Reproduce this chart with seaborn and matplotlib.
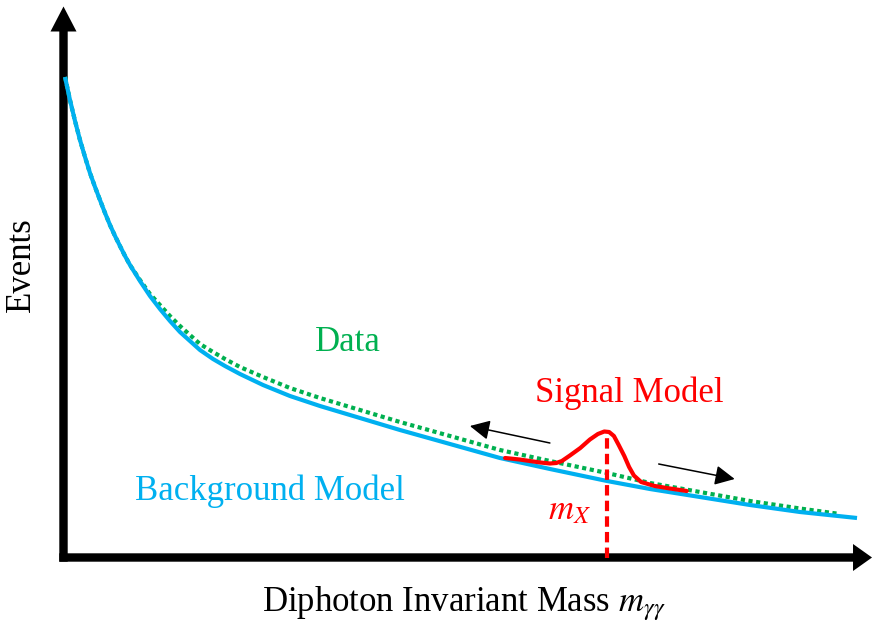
import matplotlib
matplotlib.use("Agg")
import matplotlib.pyplot as plt
import seaborn as sns

# Invariant mass grid (arbitrary units) and event yields for each curve
bkg_mass = [0.19, 0.81, 1.44, 2.06, 2.69, 3.31, 3.94, 4.56, 5.19, 5.81, 6.44, 7.06,
            7.69, 8.31, 9.56, 10.81, 12.06, 13.31, 14.56, 15.81, 17.06, 18.69, 20.19,
            22.06, 24.94, 28.31, 32.06, 35.81, 42.06, 48.31, 54.56, 60.81, 67.94,
            73.31, 79.56, 85.81, 92.06, 99.19]
bkg_events = [96.1, 91.5, 87.3, 83.5, 80.1, 76.9, 74.1, 71.5, 68.9, 66.5, 64.3, 62.3,
              60.3, 58.5, 55.3, 52.3, 49.7, 47.3, 45.1, 43.3, 41.5, 39.7, 38.3,
              36.7, 34.5, 32.3, 30.3, 28.5, 25.5, 22.7, 19.9, 17.7, 15.3,
              13.7, 12.1, 10.5, 9.1, 7.9]

data_mass = [0.19, 0.81, 1.44, 2.06, 2.69, 3.31, 3.94, 4.56, 5.19, 5.81, 6.44, 7.06,
             7.69, 8.31, 9.56, 10.81, 12.06, 13.31, 14.56, 15.81, 17.06, 18.69, 20.19,
             22.06, 24.94, 28.31, 32.06, 35.81, 42.06, 48.31, 54.56, 60.81, 67.94,
             73.31, 79.56, 85.81, 92.06, 97.06]
data_events = [96.1, 91.5, 87.3, 83.5, 80.1, 76.9, 74.1, 71.5, 68.9, 66.5, 64.3, 62.3,
               60.3, 58.5, 55.5, 52.7, 50.5, 48.3, 46.3, 44.5, 42.7, 41.1, 39.7,
               38.1, 36.1, 33.9, 31.9, 30.1, 27.1, 24.3, 21.5, 19.3, 16.9,
               14.9, 13.1, 11.3, 9.8, 8.7]

sig_mass = [55.2, 57.0, 58.3, 59.6, 60.8, 61.6, 62.3, 63.3, 64.6, 65.8, 66.8, 67.6,
            68.2, 68.8, 69.4, 70.1, 70.7, 71.3, 72.2, 73.9, 75.8, 77.9]
sig_events = [19.9, 19.6, 19.3, 19.0, 18.8, 18.9, 19.3, 20.4, 21.9, 23.6, 24.7, 25.2,
              25.1, 24.3, 22.5, 20.3, 18.1, 16.4, 15.1, 14.3, 13.8, 13.3]

# Signal peak position m_X and the scan arrows around it
m_x = 67.9
scan_left = [(60.8, 22.9), (50.8, 26.3)]
scan_right = [(74.4, 18.7), (83.9, 15.7)]

BLUE = "#00B0F0"
GREEN = "#00B050"
RED = "#FF0000"

sns.set_theme(style="white")
plt.rcParams["font.family"] = ["Liberation Serif", "DejaVu Serif"]
plt.rcParams["mathtext.fontset"] = "stix"

fig = plt.figure(figsize=(8.72, 6.23), dpi=100)
ax = fig.add_axes([0, 0, 1, 1])
ax.set_xlim(-7.9375, 101.0625)
ax.set_ylim(-13.1, 111.5)
ax.axis("off")

# Hand-drawn style axes with arrow heads
ax.arrow(0, -0.84, 0, 111.04, width=1.05, head_width=3.25, head_length=5.0,
         length_includes_head=True, color="black", lw=0, zorder=1)
ax.arrow(-0.525, 0, 101.59, 0, width=1.68, head_width=5.4, head_length=2.375,
         length_includes_head=True, color="black", lw=0, zorder=1)

sns.lineplot(x=data_mass, y=data_events, ax=ax, color=GREEN, linewidth=3,
             linestyle=(0, (1, 0.85)), dash_capstyle="butt", zorder=2)
sns.lineplot(x=bkg_mass, y=bkg_events, ax=ax, color=BLUE, linewidth=3,
             solid_capstyle="butt", solid_joinstyle="round", zorder=3)
sns.lineplot(x=sig_mass, y=sig_events, ax=ax, color=RED, linewidth=3,
             solid_joinstyle="round", zorder=4)

ax.plot([m_x, m_x], [0, max(sig_events)], color=RED, linewidth=3,
        linestyle=(0, (2.5, 1.25)), dash_capstyle="butt", zorder=4)

for (x0, y0), (x1, y1) in (scan_left, scan_right):
    ax.annotate("", xy=(x1, y1), xytext=(x0, y0),
                arrowprops=dict(arrowstyle="-|>,head_length=0.6,head_width=0.3",
                                mutation_scale=20, color="black", lw=1.1,
                                shrinkA=0, shrinkB=0), zorder=5)

fs = 25
ax.text(31.4, 41.2, "Data", color=GREEN, fontsize=fs, ha="left", va="baseline")
ax.text(58.9, 31.2, "Signal Model", color=RED, fontsize=fs, ha="left", va="baseline")
ax.text(8.9, 11.4, "Background Model", color=BLUE, fontsize=fs, ha="left", va="baseline")
ax.text(60.6, 7.7, r"$m_X$", color=RED, fontsize=fs, ha="left", va="baseline")
ax.text(24.8, -10.8, r"Diphoton Invariant Mass $m_{\gamma\gamma}$", color="black",
        fontsize=fs, ha="left", va="baseline")
ax.text(-5.25, 58.5, "Events", color="black", fontsize=fs, rotation=90,
        ha="center", va="center")

fig.savefig("out.png", dpi=100)
